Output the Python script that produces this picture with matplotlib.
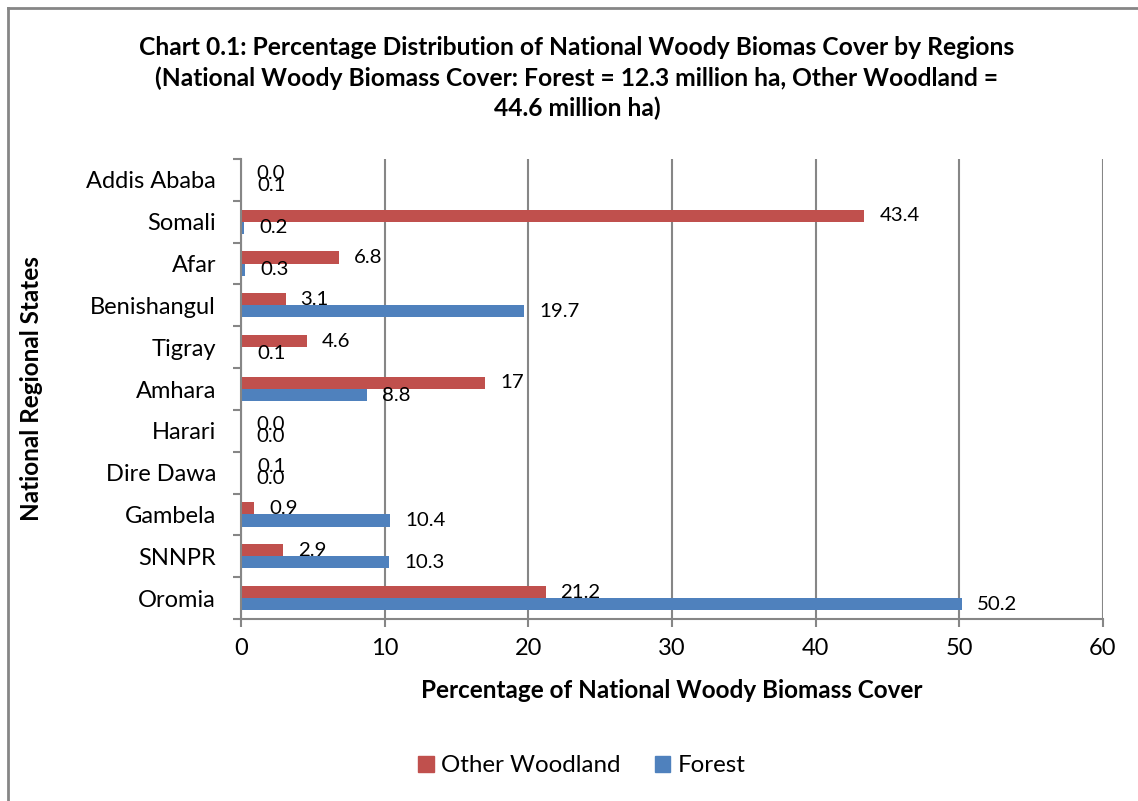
import matplotlib.pyplot as plt
import numpy as np
from matplotlib.lines import Line2D
from matplotlib.patches import Patch

plt.rcParams['font.family'] = ['Lato', 'DejaVu Sans']

regions = ['Oromia', 'SNNPR', 'Gambela', 'Dire Dawa', 'Harari', 'Amhara',
           'Tigray', 'Benishangul', 'Afar', 'Somali', 'Addis Ababa']
other_woodland = [21.2, 2.9, 0.9, 0.1, 0.0, 17, 4.6, 3.1, 6.8, 43.4, 0.0]
forest = [50.2, 10.3, 10.4, 0.0, 0.0, 8.8, 0.1, 19.7, 0.3, 0.2, 0.1]
other_labels = ['21.2', '2.9', '0.9', '0.1', '0.0', '17', '4.6', '3.1', '6.8', '43.4', '0.0']
forest_labels = ['50.2', '10.3', '10.4', '0.0', '0.0', '8.8', '0.1', '19.7', '0.3', '0.2', '0.1']

red = '#C0504D'
blue = '#4F81BD'
grey = '#868686'

fig = plt.figure(figsize=(11.38, 8.01), dpi=100)
ax = fig.add_axes([0.2118, 0.2272, 0.7574, 0.5743])

y = np.arange(len(regions))
h = 0.29
ax.barh(y + h / 2, other_woodland, height=h, color=red, label='Other Woodland')
ax.barh(y - h / 2, forest, height=h, color=blue, label='Forest')

for i in range(len(regions)):
    ax.annotate(other_labels[i], (other_woodland[i], y[i] + h / 2), xytext=(15, 0),
                textcoords='offset pixels', va='center', ha='left', fontsize=14.7)
    ax.annotate(forest_labels[i], (forest[i], y[i] - h / 2), xytext=(15, 0),
                textcoords='offset pixels', va='center', ha='left', fontsize=14.7)

ax.set_xlim(0, 60)
ax.set_ylim(-0.5, len(regions) - 0.5)
ax.set_xticks(range(0, 61, 10))
ax.set_yticks(y)
ax.set_yticklabels(regions, fontsize=17)
ax.set_yticks(np.arange(-0.5, len(regions), 1), minor=True)
ax.tick_params(axis='y', which='major', length=0, pad=18)
ax.tick_params(axis='y', which='minor', length=6, color=grey, width=1.5)
ax.tick_params(axis='x', labelsize=17, length=6, color=grey, width=1.5, pad=8)
ax.grid(axis='x', color=grey, linewidth=1.5)
ax.set_axisbelow(True)
for s in ['top', 'right']:
    ax.spines[s].set_visible(False)
for s in ['left', 'bottom']:
    ax.spines[s].set_color(grey)
    ax.spines[s].set_linewidth(1.5)

ax.set_xlabel('Percentage of National Woody Biomass Cover', fontsize=17.5,
              fontweight='bold', labelpad=14)
fig.text(32 / 1138, 1 - 389 / 801, 'National Regional States', rotation=90,
         fontsize=17.5, fontweight='bold', ha='center', va='center')

fig.text(577 / 1138, 1 - 78 / 801,
         'Chart 0.1: Percentage Distribution of National Woody Biomas Cover by Regions\n'
         '(National Woody Biomass Cover: Forest = 12.3 million ha, Other Woodland =\n'
         '44.6 million ha)',
         ha='center', va='center', fontsize=17.7, fontweight='bold', linespacing=1.36)

handles = [Patch(color=red), Patch(color=blue)]
fig.legend(handles, ['Other Woodland', 'Forest'], loc='center',
           bbox_to_anchor=(582 / 1138, 1 - 766 / 801), ncol=2, frameon=False,
           fontsize=17.4, handlelength=0.65, handleheight=0.65, handletextpad=0.3,
           columnspacing=1.4)

# chart frame
fig.add_artist(Line2D([8 / 1138, 8 / 1138], [0, 1 - 8 / 801], color=grey, lw=2,
                      transform=fig.transFigure))
fig.add_artist(Line2D([8 / 1138, 1], [1 - 8 / 801, 1 - 8 / 801], color=grey, lw=2,
                      transform=fig.transFigure))

fig.savefig('out.png', dpi=100)
